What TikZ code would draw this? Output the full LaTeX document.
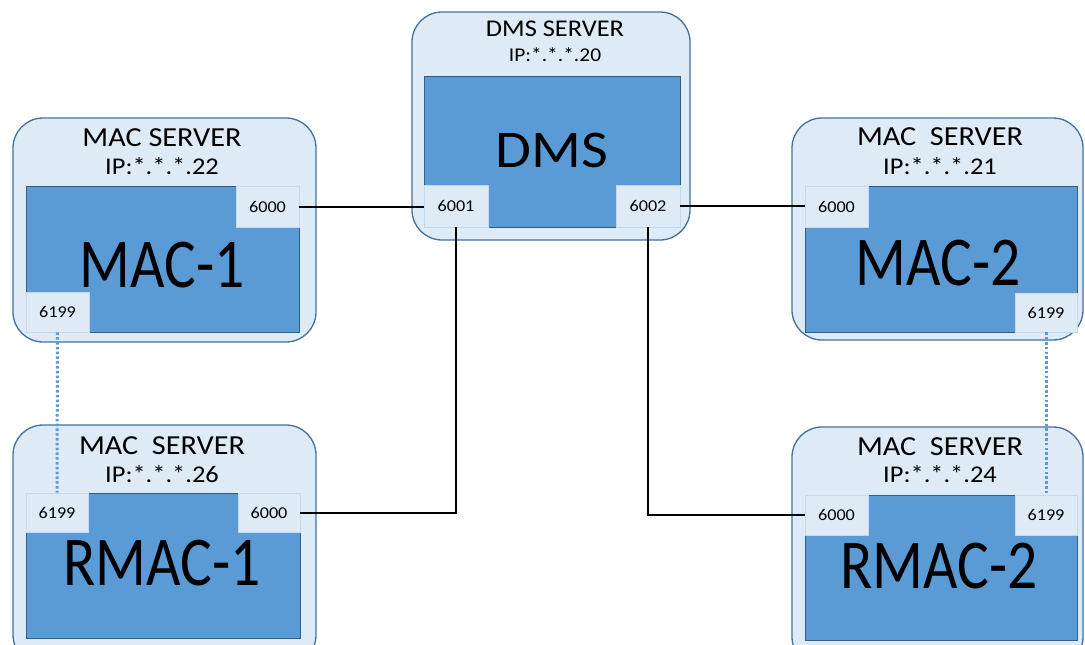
\documentclass[tikz,border=0pt]{standalone}
\usepackage{fontspec}
\setmainfont{Carlito}[FakeStretch=1.1]
\newfontfamily\bigfont{Carlito}[FakeStretch=0.85]
\definecolor{outerfill}{HTML}{DEEBF7}
\definecolor{outerline}{HTML}{41719C}
\definecolor{innerfill}{HTML}{5B9BD5}
\definecolor{innerline}{HTML}{2E5F8A}
\definecolor{portfill}{HTML}{DEEBF7}
\definecolor{portline}{HTML}{C5D9EE}
\definecolor{dotblue}{HTML}{5B9BD5}
\tikzset{
  outerbox/.style={draw=outerline, fill=outerfill, line width=1.3pt, rounded corners=30pt, inner sep=0pt},
  innerbox/.style={draw=innerline, fill=innerfill, line width=1pt, inner sep=0pt},
  portbox/.style={draw=portline, fill=portfill, line width=0.8pt, inner sep=0pt, font=\fontsize{16.5}{16.5}\selectfont},
  title/.style={anchor=base, inner sep=0pt, font=\fontsize{27.5}{27.5}\selectfont},
  iptext/.style={anchor=base, inner sep=0pt, font=\fontsize{24}{24}\selectfont},
  bigtext/.style={anchor=base, inner sep=0pt, font=\bigfont\fontsize{70}{70}\selectfont},
  conn/.style={draw=black, line width=2pt},
  dotconn/.style={draw=dotblue, line width=3pt, dash pattern=on 2.5pt off 2.3pt}
}
\begin{document}
\begin{tikzpicture}[x=1pt, y=-1pt]
\useasboundingbox (0,0) rectangle (1085,645);
\clip (0,0) rectangle (1085,645);
% ---------- DMS ----------
\node[outerbox, minimum width=278pt, minimum height=228pt] (dmsout) at (551,126) {};
\node[innerbox, minimum width=256pt, minimum height=151pt] (dmsin) at (552,151.5) {};
\node[portbox, minimum width=64pt, minimum height=42pt] (dp1) at (456,206) {6001};
\node[portbox, minimum width=64pt, minimum height=42pt] (dp2) at (648,206) {6002};
\node[title, font=\fontsize{24}{24}\selectfont] (dmst) at (555,36) {DMS SERVER};
\node[iptext, font=\fontsize{19.5}{19.5}\selectfont] (dmsip) at (555,61) {IP:*.*.*.20};
\node[anchor=base, inner sep=0pt, font=\fontsize{53}{53}\selectfont] (dmsn) at (552,167) {DMS};
% ---------- MAC-1 ----------
\node[outerbox, minimum width=303pt, minimum height=224pt] (m1out) at (164.5,230) {};
\node[innerbox, minimum width=273pt, minimum height=146pt] (m1in) at (162.5,259) {};
\node[portbox, minimum width=63pt, minimum height=41pt] (m1p0) at (267.5,206.5) {6000};
\node[portbox, minimum width=63pt, minimum height=40pt] (m1p9) at (57.5,312) {6199};
\node[title] (m1t) at (162,146) {MAC SERVER};
\node[iptext] (m1ip) at (162,174) {IP:*.*.*.22};
\node[bigtext] (m1n) at (162,287) {MAC-1};
% ---------- RMAC-1 ----------
\node[outerbox, minimum width=303pt, minimum height=240pt] (r1out) at (164.5,545) {};
\node[innerbox, minimum width=274pt, minimum height=145pt] (r1in) at (163,565.5) {};
\node[portbox, minimum width=62pt, minimum height=39pt] (r1p9) at (57,512.5) {6199};
\node[portbox, minimum width=62pt, minimum height=39pt] (r1p0) at (269,512.5) {6000};
\node[title] (r1t) at (162,454) {MAC\ \ SERVER};
\node[iptext] (r1ip) at (162,482) {IP:*.*.*.26};
\node[bigtext] (r1n) at (162,585) {RMAC-1};
% ---------- MAC-2 ----------
\node[outerbox, minimum width=291pt, minimum height=222pt] (m2out) at (937.5,229) {};
\node[innerbox, minimum width=272pt, minimum height=146pt] (m2in) at (941,259) {};
\node[portbox, minimum width=63pt, minimum height=41pt] (m2p0) at (836.5,206.5) {6000};
\node[portbox, minimum width=62pt, minimum height=39pt] (m2p9) at (1046,312.5) {6199};
\node[title] (m2t) at (940,145) {MAC\ \ SERVER};
\node[iptext] (m2ip) at (940,174) {IP:*.*.*.21};
\node[bigtext] (m2n) at (938,285) {MAC-2};
% ---------- RMAC-2 ----------
\node[outerbox, minimum width=291pt, minimum height=240pt] (r2out) at (937.5,547) {};
\node[innerbox, minimum width=272pt, minimum height=145pt] (r2in) at (941,567.5) {};
\node[portbox, minimum width=63pt, minimum height=40pt] (r2p0) at (836.5,515) {6000};
\node[portbox, minimum width=62pt, minimum height=40pt] (r2p9) at (1046,515) {6199};
\node[title] (r2t) at (940,455) {MAC\ \ SERVER};
\node[iptext] (r2ip) at (940,482) {IP:*.*.*.24};
\node[bigtext] (r2n) at (939,588) {RMAC-2};
% ---------- connectors ----------
\draw[conn] (m1p0.east) -- (m1p0.east -| dp1.west);
\draw[conn] (dp2.east) -- (dp2.east -| m2p0.west);
\draw[conn] (dp1.south) |- (r1p0.east);
\draw[conn] (dp2.south) |- (r2p0.west);
\draw[dotconn] (m1p9.south) -- (r1p9.north);
\draw[dotconn] (m2p9.south) -- (r2p9.north);
\end{tikzpicture}
\end{document}
